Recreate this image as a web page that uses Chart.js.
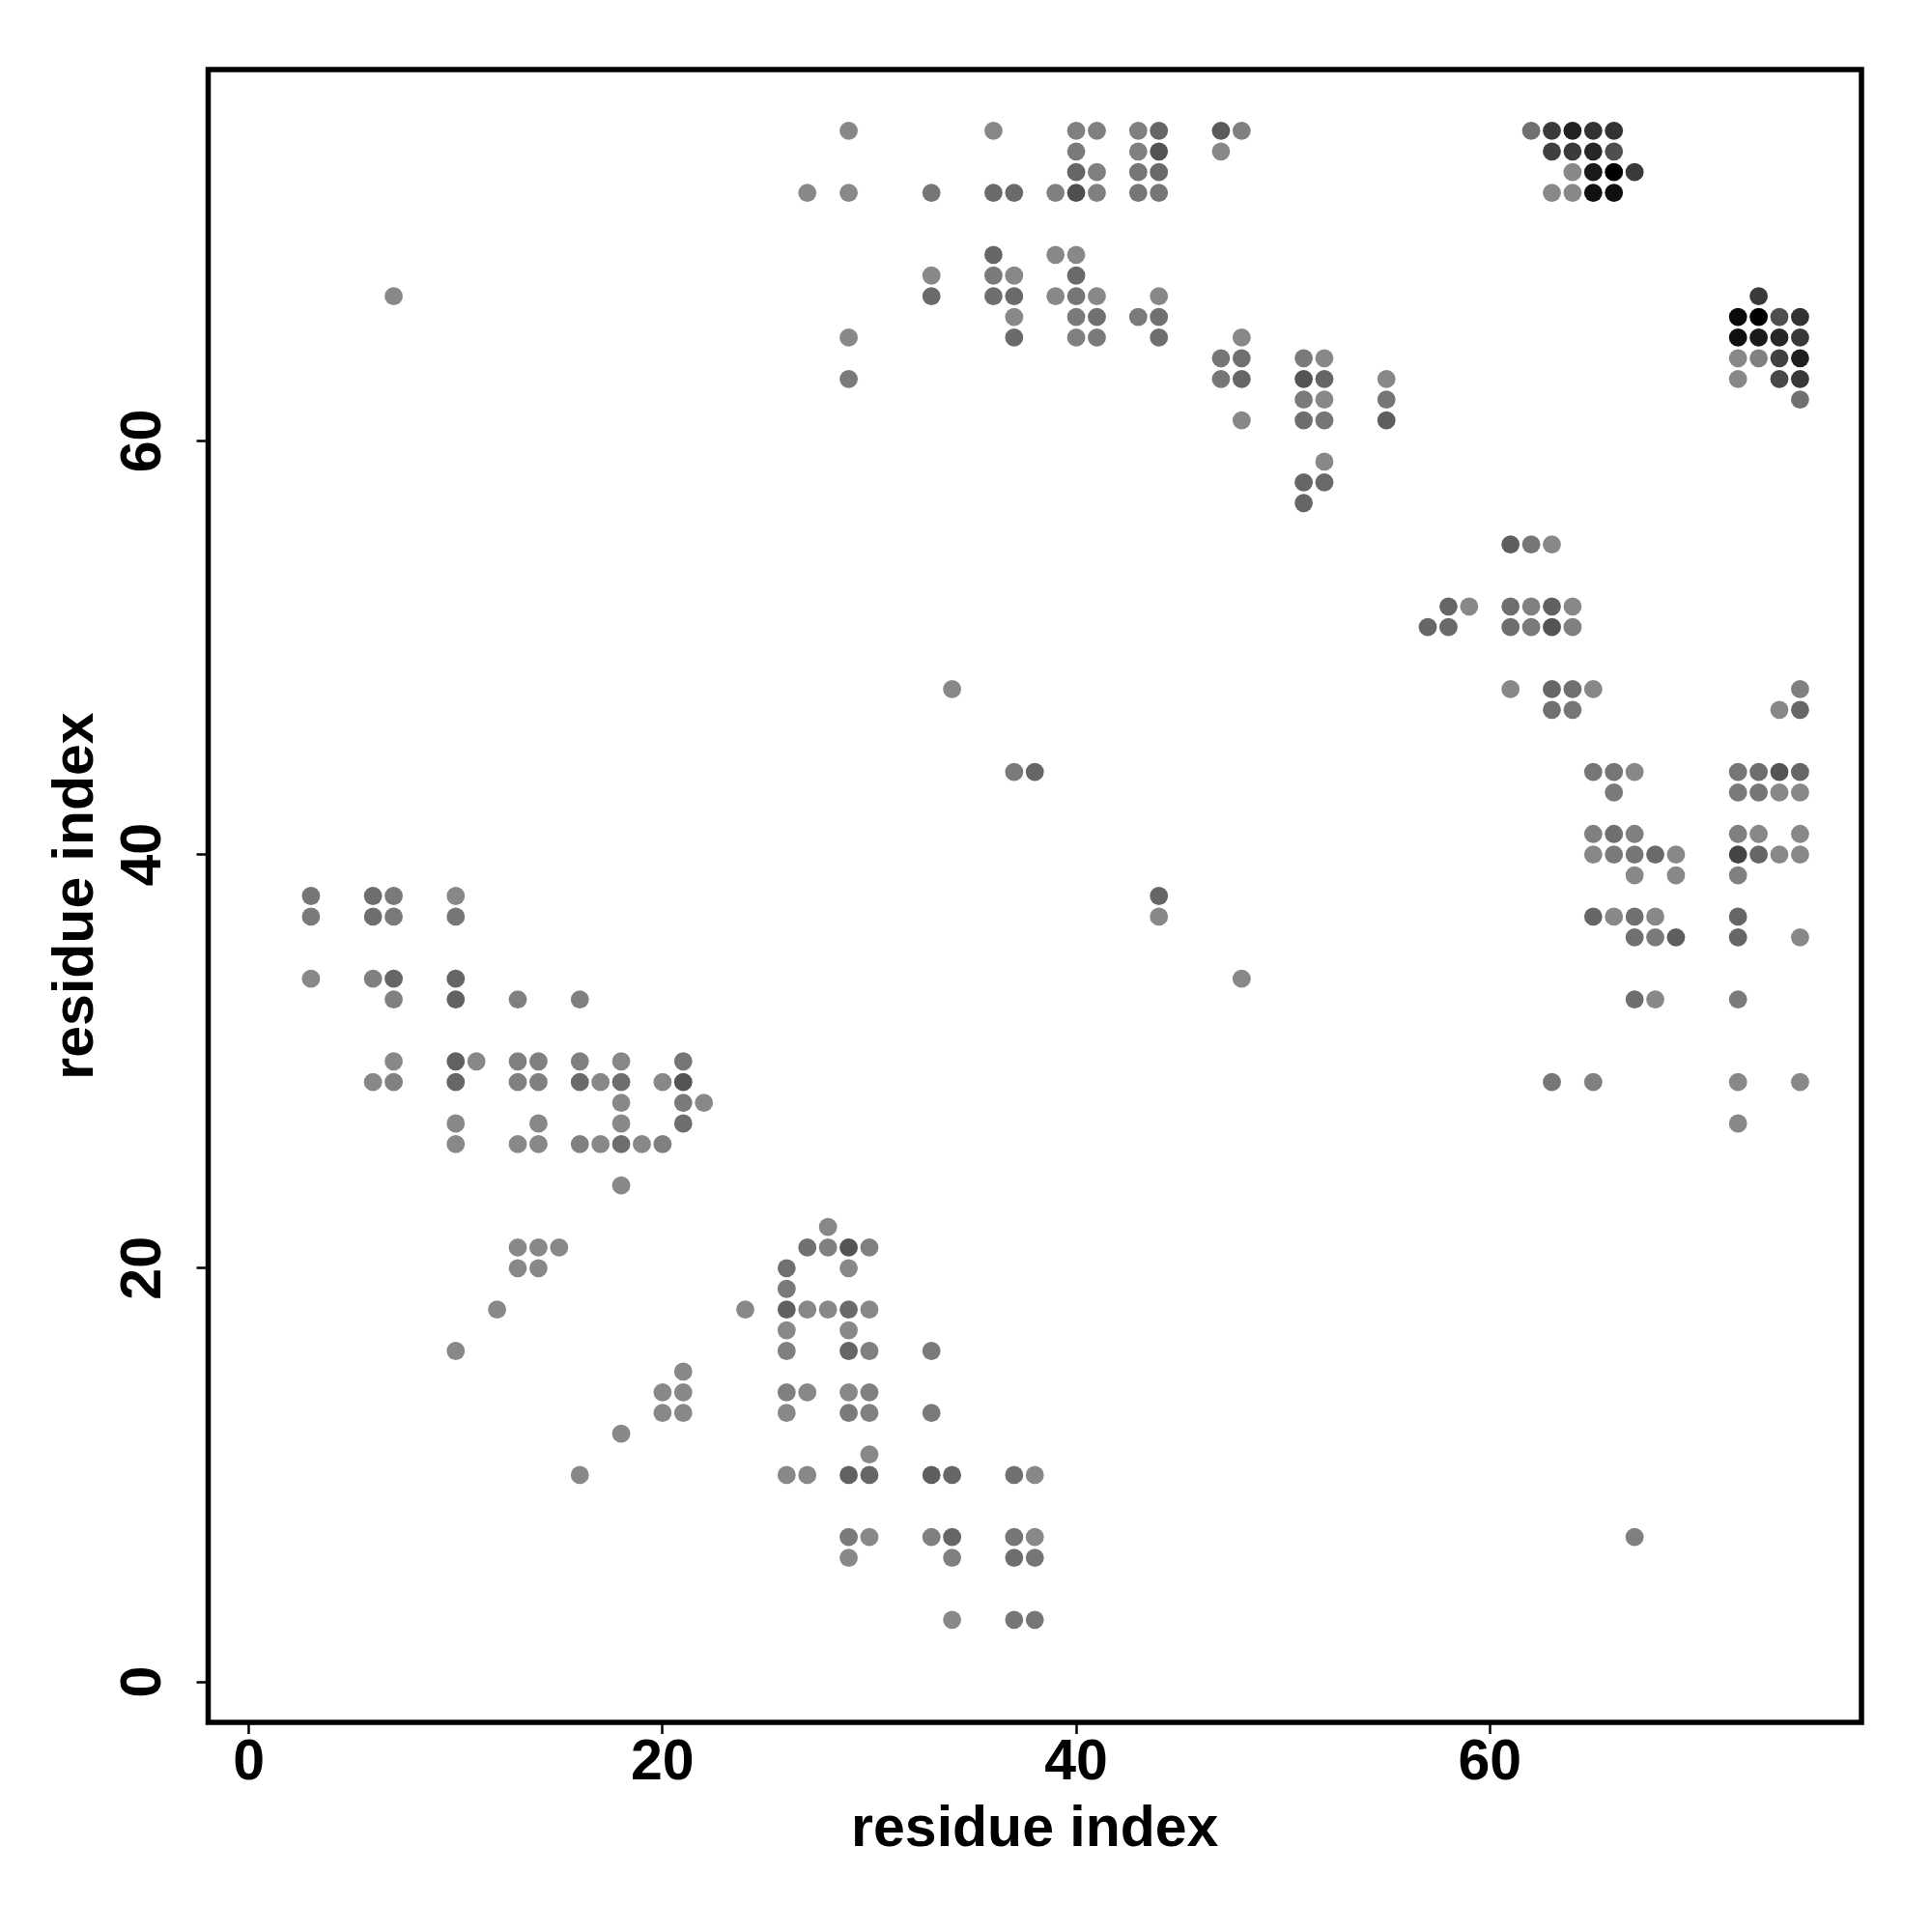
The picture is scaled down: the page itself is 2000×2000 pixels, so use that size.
<!DOCTYPE html>
<html>
<head>
<meta charset="utf-8">
<title>residue contact map</title>
<script src="https://cdn.jsdelivr.net/npm/chart.js@4.4.1/dist/chart.umd.min.js"></script>
<style>
  html, body { margin: 0; padding: 0; background: #fff; }
  #wrap { width: 2000px; height: 2000px; }
</style>
</head>
<body>
<div id="wrap"><canvas id="contactMap" width="2000" height="2000"></canvas></div>
<script>
(function () {
    // -------- Data: [residue i, residue j, contact score 0..1] --------
    const rows72to75 = [
        [29, 75, 0], [36, 75, 0], [40, 75, 0.06], [41, 75, 0.06], [43, 75, 0.06], [44, 75, 0.25], [47, 75, 0.34], [48, 75, 0.06],
        [62, 75, 0.18], [63, 75, 0.57], [64, 75, 0.75], [65, 75, 0.63], [66, 75, 0.63],
        [40, 74, 0.10], [43, 74, 0.06], [44, 74, 0.38], [47, 74, 0],
        [63, 74, 0.54], [64, 74, 0.57], [65, 74, 0.71], [66, 74, 0.42],
        [40, 73, 0.25], [41, 73, 0.06], [43, 73, 0.13], [44, 73, 0.22],
        [64, 73, 0], [65, 73, 0.81], [66, 73, 1], [67, 73, 0.57],
        [27, 72, 0], [29, 72, 0], [33, 72, 0.13], [36, 72, 0.22], [37, 72, 0.22], [39, 72, 0.06], [40, 72, 0.42],
        [41, 72, 0.06], [43, 72, 0.13], [44, 72, 0.13],
        [63, 72, 0], [64, 72, 0], [65, 72, 0.88], [66, 72, 0.89]
    ];
    const rows57to69 = [
        [36, 69, 0.25], [39, 69, 0], [40, 69, 0],
        [33, 68, 0], [36, 68, 0.10], [37, 68, 0], [40, 68, 0.22],
        [7, 67, 0], [33, 67, 0.22], [36, 67, 0.19], [37, 67, 0.22], [39, 67, 0], [40, 67, 0.13], [41, 67, 0], [44, 67, 0], [73, 67, 0.57],
        [37, 66, 0], [40, 66, 0.10], [41, 66, 0.18], [43, 66, 0.10], [44, 66, 0.18], [72, 66, 0.93], [73, 66, 1], [74, 66, 0.42], [75, 66, 0.63],
        [29, 65, 0], [37, 65, 0.22], [40, 65, 0.06], [41, 65, 0.10], [44, 65, 0.19], [48, 65, 0],
        [72, 65, 0.88], [73, 65, 0.81], [74, 65, 0.71], [75, 65, 0.59],
        [47, 64, 0.13], [48, 64, 0.18], [51, 64, 0.10], [52, 64, 0], [72, 64, 0], [73, 64, 0.06], [74, 64, 0.53], [75, 64, 0.78],
        [29, 63, 0.10], [47, 63, 0.13], [48, 63, 0.25], [51, 63, 0.38], [52, 63, 0.25], [55, 63, 0], [72, 63, 0], [74, 63, 0.47], [75, 63, 0.59],
        [51, 62, 0.10], [52, 62, 0], [55, 62, 0.13], [75, 62, 0.18],
        [48, 61, 0], [51, 61, 0.19], [52, 61, 0.13], [55, 61, 0.31],
        [52, 59, 0], [51, 58, 0.25], [52, 58, 0.22], [51, 57, 0.25]
    ];
    const rows44to55 = [
        [61, 55, 0.31], [62, 55, 0.13], [63, 55, 0],
        [58, 52, 0.25], [59, 52, 0], [61, 52, 0.19], [62, 52, 0.06], [63, 52, 0.29], [64, 52, 0],
        [57, 51, 0.25], [58, 51, 0.22], [61, 51, 0.19], [62, 51, 0.10], [63, 51, 0.38], [64, 51, 0.06],
        [34, 48, 0], [61, 48, 0], [63, 48, 0.25], [64, 48, 0.18], [65, 48, 0], [75, 48, 0.06],
        [63, 47, 0.18], [64, 47, 0.13], [74, 47, 0], [75, 47, 0.25],
        [37, 44, 0.10], [38, 44, 0.25], [65, 44, 0.13], [66, 44, 0.13], [67, 44, 0],
        [72, 44, 0.13], [73, 44, 0.19], [74, 44, 0.38], [75, 44, 0.25]
    ];
    const rows33to43 = [
        [66, 43, 0.10], [72, 43, 0.10], [73, 43, 0.13], [74, 43, 0], [75, 43, 0],
        [65, 41, 0.06], [66, 41, 0.18], [67, 41, 0.06], [72, 41, 0.06], [73, 41, 0], [75, 41, 0],
        [65, 40, 0], [66, 40, 0.10], [67, 40, 0.13], [68, 40, 0.22], [69, 40, 0], [72, 40, 0.50], [73, 40, 0.25], [74, 40, 0], [75, 40, 0],
        [67, 39, 0], [69, 39, 0], [72, 39, 0.06],
        [3, 38, 0.13], [6, 38, 0.19], [7, 38, 0.10], [10, 38, 0], [44, 38, 0.25],
        [3, 37, 0.10], [6, 37, 0.19], [7, 37, 0.10], [10, 37, 0.13], [44, 37, 0],
        [65, 37, 0.25], [66, 37, 0], [67, 37, 0.18], [68, 37, 0], [72, 37, 0.25],
        [67, 36, 0.18], [68, 36, 0.10], [69, 36, 0.31], [72, 36, 0.25], [75, 36, 0],
        [3, 34, 0], [6, 34, 0.06], [7, 34, 0.25], [10, 34, 0.25], [48, 34, 0],
        [7, 33, 0.06], [10, 33, 0.29], [13, 33, 0.06], [16, 33, 0.06], [67, 33, 0.19], [68, 33, 0], [72, 33, 0.10]
    ];
    const rows20to30 = [
        [7, 30, 0], [10, 30, 0.29], [11, 30, 0], [13, 30, 0.06], [14, 30, 0.06], [16, 30, 0.06], [18, 30, 0], [21, 30, 0.13],
        [6, 29, 0], [7, 29, 0.06], [10, 29, 0.25], [13, 29, 0.06], [14, 29, 0.06], [16, 29, 0.22], [17, 29, 0], [18, 29, 0.19],
        [20, 29, 0], [21, 29, 0.38], [63, 29, 0.13], [65, 29, 0.06], [72, 29, 0], [75, 29, 0],
        [18, 28, 0], [21, 28, 0.10], [22, 28, 0],
        [10, 27, 0], [14, 27, 0], [18, 27, 0], [21, 27, 0.19], [72, 27, 0],
        [10, 26, 0], [13, 26, 0], [14, 26, 0], [16, 26, 0.06], [17, 26, 0], [18, 26, 0.19], [19, 26, 0], [20, 26, 0.06],
        [18, 24, 0],
        [28, 22, 0],
        [13, 21, 0], [14, 21, 0], [15, 21, 0], [27, 21, 0.18], [28, 21, 0.06], [29, 21, 0.38], [30, 21, 0.06],
        [13, 20, 0], [14, 20, 0], [26, 20, 0.18], [29, 20, 0]
    ];
    const rows3to19 = [
        [26, 19, 0.10],
        [12, 18, 0], [24, 18, 0], [26, 18, 0.29], [27, 18, 0], [28, 18, 0], [29, 18, 0.22], [30, 18, 0],
        [26, 17, 0], [29, 17, 0],
        [10, 16, 0], [26, 16, 0.06], [29, 16, 0.25], [30, 16, 0.06], [33, 16, 0.10],
        [21, 15, 0],
        [20, 14, 0], [21, 14, 0], [26, 14, 0.06], [27, 14, 0], [29, 14, 0], [30, 14, 0.06],
        [20, 13, 0], [21, 13, 0], [26, 13, 0], [29, 13, 0.10], [30, 13, 0.06], [33, 13, 0.10],
        [18, 12, 0],
        [30, 11, 0],
        [16, 10, 0], [26, 10, 0], [27, 10, 0], [29, 10, 0.29], [30, 10, 0.25], [33, 10, 0.31], [34, 10, 0.25], [37, 10, 0.18], [38, 10, 0],
        [29, 7, 0.10], [30, 7, 0], [33, 7, 0.06], [34, 7, 0.25], [37, 7, 0.13], [38, 7, 0], [67, 7, 0.06],
        [29, 6, 0], [34, 6, 0.06], [37, 6, 0.19], [38, 6, 0.13],
        [34, 3, 0], [37, 3, 0.13], [38, 3, 0.13]
    ];

    const xTicks = [0, 20, 40, 60];
    const yTicks = [0, 20, 40, 60];
    const xTitle = "residue index";
    const yTitle = "residue index";

    // -------- Prepare --------
    const contacts = [].concat(rows72to75, rows57to69, rows44to55, rows33to43, rows20to30, rows3to19);
    const gray = (s) => {
        const g = Math.round(136 * (1 - s));
        return `rgb(${g},${g},${g})`;
    };
    const points = contacts.map(c => ({ x: c[0], y: c[1] }));
    const colors = contacts.map(c => gray(c[2]));

    const FONT = { family: "'Liberation Sans', Arial, sans-serif", weight: "bold", size: 59 };

    // box around the plot region, like base R
    const boxPlugin = {
        id: "box",
        afterDraw(chart) {
            const { ctx, chartArea: a } = chart;
            ctx.save();
            ctx.strokeStyle = "#000";
            ctx.lineWidth = 5.5;
            ctx.strokeRect(a.left, a.top, a.right - a.left, a.bottom - a.top);
            ctx.restore();
        }
    };

    const canvas = document.getElementById("contactMap");
    new Chart(canvas, {
        type: "scatter",
        data: {
            datasets: [{
                data: points,
                pointBackgroundColor: colors,
                pointBorderWidth: 0,
                pointRadius: 9.4,
                pointHoverRadius: 9.4
            }]
        },
        options: {
            responsive: false,
            animation: false,
            layout: { padding: { top: 72, right: 73, left: 0, bottom: 0 } },
            plugins: { legend: { display: false }, tooltip: { enabled: false } },
            scales: {
                x: {
                    type: "linear",
                    min: -1.97, max: 77.97,
                    afterFit: (s) => { s.height = 217; },
                    afterBuildTicks: (s) => { s.ticks = xTicks.map(v => ({ value: v })); },
                    border: { display: false },
                    grid: { drawOnChartArea: false, drawTicks: true, tickLength: 12, tickWidth: 2.5, tickColor: "#000" },
                    ticks: { color: "#000", font: FONT, padding: -5, autoSkip: false, maxRotation: 0 },
                    title: { display: true, text: xTitle, color: "#000", font: FONT, padding: { top: 0, bottom: 70 } }
                },
                y: {
                    type: "linear",
                    min: -1.96, max: 77.96,
                    afterFit: (s) => { s.width = 215.5; },
                    afterBuildTicks: (s) => { s.ticks = yTicks.map(v => ({ value: v })); },
                    border: { display: false },
                    grid: { drawOnChartArea: false, drawTicks: true, tickLength: 12, tickWidth: 2.5, tickColor: "#000" },
                    ticks: { color: "#000", font: FONT, padding: 21, autoSkip: false, minRotation: 90, maxRotation: 90, crossAlign: "center" },
                    title: { display: true, text: yTitle, color: "#000", font: FONT, padding: { top: 44, bottom: 0 } }
                }
            }
        },
        plugins: [boxPlugin]
    });
})();
</script>
</body>
</html>
